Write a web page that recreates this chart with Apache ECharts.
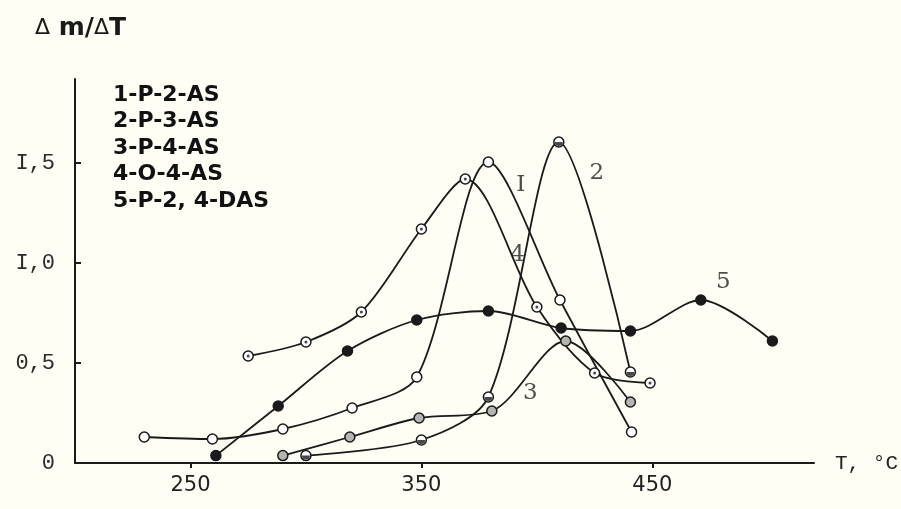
<!DOCTYPE html>
<html><head><meta charset="utf-8">
<script src="https://cdn.jsdelivr.net/npm/echarts@6/dist/echarts.min.js"></script>
<style>html,body{margin:0;padding:0;background:#fefef5}#c{width:901px;height:509px}</style>
</head><body><div id="c"></div>
<script>
// Axis ticks
const xTicks = [250, 350, 450];
const yTicks = [0, 0.5, 1.0, 1.5];
const yTickLabels = ['0', '0,5', 'I,0', 'I,5'];
const xName = 'T, °C';
const legendLines = ['1-P-2-AS', '2-P-3-AS', '3-P-4-AS', '4-O-4-AS', '5-P-2, 4-DAS'];

// Series values [T, Δm/ΔT]
const curve1 = [[230,0.13],[259.5,0.12],[290,0.17],[320,0.275],[348,0.43],[379,1.505],[410,0.815],[441,0.155]];
const curve2 = [[300,0.037],[350,0.115],[379,0.33],[409.5,1.605],[440.5,0.455]];
const curve3 = [[290,0.037],[319,0.13],[349,0.225],[380.5,0.26],[412.5,0.61],[440.5,0.305]];
const curve4 = [[275,0.535],[300,0.605],[324,0.755],[350,1.17],[369,1.42],[400,0.78],[425,0.45],[449,0.40]];
const curve5 = [[261,0.037],[288,0.285],[318,0.56],[348,0.715],[379,0.76],[410.5,0.675],[440.5,0.66],[471,0.815],[502,0.61]];

// Curve annotations
const curveLabels = ['I', '2', '4', '5', '3'];
const curveLabelPos = [[393,1.39],[426,1.45],[391.6,1.04],[480.7,0.905],[397.2,0.35]];

const INK = '#1a1a1a';
const lineStyle = {color: INK, width: 1.8};
function lineSeries(data, fill, size) {
  return {
    type: 'line', data: data, smooth: 0.3,
    symbol: 'circle', symbolSize: size || 10,
    lineStyle: lineStyle,
    itemStyle: {color: fill, borderColor: INK, borderWidth: 1.5},
    emphasis: {disabled: true}, z: 2
  };
}
function overlay(data, symbol, size, offset) {
  return {
    type: 'scatter', data: data, symbol: symbol, symbolSize: size,
    symbolOffset: offset || [0, 0],
    itemStyle: {color: INK}, emphasis: {disabled: true}, z: 3, silent: true
  };
}

const chart = echarts.init(document.getElementById('c'), null, {renderer: 'canvas'});
chart.setOption({
  animation: false,
  backgroundColor: '#fefef5',
  title: [
    {text: '{a|Δ} m/{a|Δ}T', left: 35, top: 16, padding: 0,
     textStyle: {fontFamily: 'DejaVu Sans', fontWeight: 'bold', fontSize: 25, color: INK,
       rich: {a: {fontFamily: 'DejaVu Sans', fontWeight: 'normal', fontSize: 22, color: INK}}}},
    {text: legendLines.join('\n'), left: 113, top: 82, padding: 0,
     textStyle: {fontFamily: 'DejaVu Sans', fontWeight: 'bold', fontSize: 22, lineHeight: 26.5, color: '#111'}}
  ],
  grid: {left: 75, right: 87, top: 79, bottom: 46, containLabel: false},
  xAxis: {
    type: 'value', min: 200, max: 520,
    name: xName, nameLocation: 'end', nameGap: 21,
    nameTextStyle: {fontFamily: 'Liberation Mono', fontSize: 21, color: '#222'},
    axisLine: {lineStyle: {color: INK, width: 2}},
    axisTick: {customValues: xTicks, length: 5, lineStyle: {color: INK, width: 2}},
    axisLabel: {customValues: xTicks, margin: 12, fontFamily: 'DejaVu Sans', fontSize: 21, color: '#222'},
    splitLine: {show: false}
  },
  yAxis: {
    type: 'value', min: 0, max: 1.92,
    axisLine: {show: true, lineStyle: {color: INK, width: 2}},
    axisTick: {show: true, customValues: yTicks, inside: true, length: 6, lineStyle: {color: INK, width: 2}},
    axisLabel: {customValues: yTicks, margin: 20, fontFamily: 'Liberation Mono', fontSize: 22, color: '#2a2a2a',
      formatter: function (v) { const i = yTicks.indexOf(v); return i >= 0 ? yTickLabels[i] : ''; }},
    splitLine: {show: false}
  },
  series: [
    lineSeries(curve1, '#ffffff'),
    lineSeries(curve2, '#ffffff'),
    overlay(curve2, 'path://M-1,0A1,1 0 0 0 1,0Z', [8, 4], [0, '50%']),
    lineSeries(curve3, '#b4b4b0'),
    lineSeries(curve4, '#ffffff'),
    overlay(curve4, 'circle', 3),
    lineSeries(curve5, INK, 10),
    {
      type: 'scatter', symbolSize: 1, itemStyle: {color: 'rgba(0,0,0,0)'}, silent: true, z: 4,
      data: curveLabels.map(function (t, i) { return {name: t, value: curveLabelPos[i]}; }),
      label: {show: true, position: 'inside', formatter: '{b}', fontFamily: 'DejaVu Serif', fontSize: 23, color: '#222'}
    }
  ]
});
</script></body></html>
